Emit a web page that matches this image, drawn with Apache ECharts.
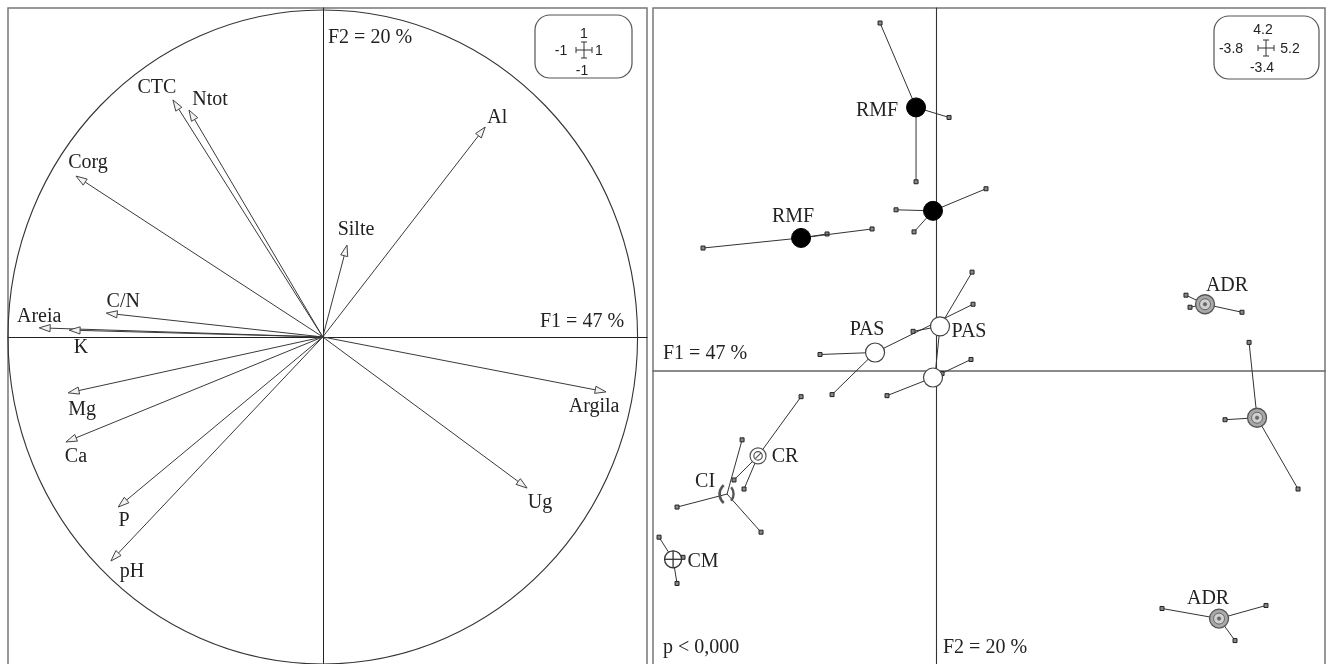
<!DOCTYPE html>
<html>
<head>
<meta charset="utf-8">
<script src="https://cdn.jsdelivr.net/npm/echarts@6/dist/echarts.min.js"></script>
<style>
html,body{margin:0;padding:0;background:#fff;}
#chart{width:1330px;height:664px;}
</style>
</head>
<body>
<div id="chart"></div>
<script>
// ---------- DATA ----------
// Left panel: correlation circle (variable loadings on F1, F2)
const varNames = ['CTC','Ntot','Corg','C/N','Areia','K','Mg','Ca','P','pH','Al','Silte','Argila','Ug'];
const varF1 = [-0.476,-0.425,-0.784,-0.688,-0.901,-0.806,-0.809,-0.816,-0.650,-0.673,0.516,0.077,0.900,0.649];
const varF2 = [0.725,0.694,0.492,0.073,0.028,0.021,-0.171,-0.321,-0.520,-0.685,0.642,0.281,-0.168,-0.462];

// Right panel: class centroids
const groupClass = ['RMF','RMF','RMF','PAS','PAS','PAS','ADR','ADR','ADR','CR','CI','CM'];
const groupLabel = ['RMF','','RMF','PAS','PAS','','ADR','','ADR','CR','CI','CM'];
const groupF1 = [-0.277,-0.050,-1.817,0.044,-0.826,-0.050,3.593,4.290,3.781,-2.393,-2.808,-3.531];
const groupF2 = [3.048,1.850,1.536,0.512,0.209,-0.081,0.768,-0.547,-2.874,-0.989,-1.431,-2.187];

// Right panel: samples (each linked to its group centroid)
const sampleGroup = [0,0,0, 1,1,1, 2,2,2, 3,3,3, 4,4,4, 5,5,5, 6,6,6, 7,7,7, 8,8,8, 9,9,9, 10,10,10, 11,11,11];
const sampleF1 = [-0.759,0.165,-0.277, 0.660,-0.545,-0.304, -3.130,-1.469,-0.866,
                  0.473,-0.317,-0.023, -1.563,-1.402,0.486, -0.666,0.459,0.071,
                  3.338,3.392,4.088, 4.183,3.861,4.839, 3.017,4.410,3.995,
                  -1.817,-2.715,-2.581, -2.607,-3.478,-2.353, -3.719,-3.478,-3.398];
const sampleF2 = [4.026,2.932,2.187, 2.106,1.862,1.606, 1.419,1.582,1.640,
                  1.140,0.454,-0.058, 0.186,-0.279,0.768, -0.291,0.128,-0.035,
                  0.873,0.733,0.675, 0.326,-0.570,-1.373, -2.757,-2.722,-3.129,
                  -0.303,-1.268,-1.373, -0.803,-1.582,-1.873, -1.931,-2.467,-2.164];

// Axis ranges / scale-box tick labels
const leftRange = [-1, 1];
const rightXRange = [-3.8, 5.2];
const rightYRange = [-3.4, 4.2];
const axisTexts = ['F1 = 47 %', 'F2 = 20 %', 'p < 0,000'];

// ---------- STYLE / PLACEMENT ----------
const serif = '"Liberation Serif","Times New Roman",serif';
const sans = '"Liberation Sans",Arial,sans-serif';
const varLabelOffset = {
  'CTC':[-16,-12],'Ntot':[21,-10],'Corg':[12,-13],'C/N':[17,-11],'Areia':[0,-11],'K':[12,18],
  'Mg':[14,17],'Ca':[10,15],'P':[6,14],'pH':[21,11],'Al':[12,-9],'Silte':[9,-15],'Argila':[-12,15],'Ug':[13,15]
};
const groupLabelOffset = [[-39,3],[0,0],[-8,-21],[29,5],[-8,-23],[0,0],[22,-18],[0,0],[-11,-20],[27,1],[-22,-12],[30,2]];

const chart = echarts.init(document.getElementById('chart'), null, {renderer:'canvas'});

function hiddenAxis(extra){
  return Object.assign({
    type:'value', splitLine:{show:false}, axisTick:{show:false}, axisLabel:{show:false},
    axisLine:{show:true, onZero:true, lineStyle:{color:'#222', width:1}}
  }, extra);
}

function crossMarks(cx, cy, hw, hh){
  const st = {stroke:'#333', lineWidth:1};
  const c = 3;
  return [
    {type:'line', silent:true, shape:{x1:cx-hw,y1:cy,x2:cx+hw,y2:cy}, style:st},
    {type:'line', silent:true, shape:{x1:cx,y1:cy-hh,x2:cx,y2:cy+hh}, style:st},
    {type:'line', silent:true, shape:{x1:cx-hw,y1:cy-c,x2:cx-hw,y2:cy+c}, style:st},
    {type:'line', silent:true, shape:{x1:cx+hw,y1:cy-c,x2:cx+hw,y2:cy+c}, style:st},
    {type:'line', silent:true, shape:{x1:cx-c,y1:cy-hh,x2:cx+c,y2:cy-hh}, style:st},
    {type:'line', silent:true, shape:{x1:cx-c,y1:cy+hh,x2:cx+c,y2:cy+hh}, style:st}
  ];
}
function txt(x, y, text, font, align){
  return {type:'text', silent:true, x:x, y:y, style:{text:text, font:font, fill:'#222',
    textAlign:align||'center', align:align||'center', textVerticalAlign:'middle', verticalAlign:'middle'}};
}
function fmt(v){ return String(v); }

const graphics = [
  // panel frames
  {type:'rect', silent:true, shape:{x:8,y:8,width:639,height:700}, style:{fill:'rgba(0,0,0,0)', stroke:'#777', lineWidth:1.5}},
  {type:'rect', silent:true, shape:{x:653,y:8,width:672,height:700}, style:{fill:'rgba(0,0,0,0)', stroke:'#777', lineWidth:1.5}},
  // scale boxes
  {type:'rect', silent:true, shape:{x:535,y:15,width:97,height:63,r:15}, style:{fill:'#fff', stroke:'#555', lineWidth:1.2}},
  {type:'rect', silent:true, shape:{x:1214,y:16,width:105,height:63,r:15}, style:{fill:'#fff', stroke:'#555', lineWidth:1.2}},
  txt(584,34,fmt(leftRange[1]),'14px '+sans),
  txt(561,51,fmt(leftRange[0]),'14px '+sans),
  txt(599,51,fmt(leftRange[1]),'14px '+sans),
  txt(582,71,fmt(leftRange[0]),'14px '+sans),
  txt(1263,30,fmt(rightYRange[1]),'14px '+sans),
  txt(1231,49,fmt(rightXRange[0]),'14px '+sans),
  txt(1290,49,fmt(rightXRange[1]),'14px '+sans),
  txt(1262,68,fmt(rightYRange[0]),'14px '+sans),
  // axis annotations
  txt(328,38,axisTexts[1],'20px '+serif,'left'),
  txt(540,322,axisTexts[0],'20px '+serif,'left'),
  txt(663,354,axisTexts[0],'20px '+serif,'left'),
  txt(663,648,axisTexts[2],'20px '+serif,'left'),
  txt(943,648,axisTexts[1],'20px '+serif,'left')
].concat(crossMarks(584,50,8,8)).concat(crossMarks(1266,48,8,8));

function arrowItem(params, api){
  const o = api.coord([0,0]);
  const t = api.coord([api.value(0), api.value(1)]);
  const dx = t[0]-o[0], dy = t[1]-o[1];
  const len = Math.hypot(dx,dy);
  const ux = dx/len, uy = dy/len;
  const hl = 11, hw = 3.6;
  const bx = t[0]-ux*hl, by = t[1]-uy*hl;
  const px = -uy, py = ux;
  const name = varNames[params.dataIndex];
  const off = varLabelOffset[name] || [0,0];
  return {type:'group', children:[
    {type:'line', shape:{x1:o[0],y1:o[1],x2:bx,y2:by}, style:{stroke:'#3a3a3a', lineWidth:1}},
    {type:'polygon', shape:{points:[[t[0],t[1]],[bx+px*hw,by+py*hw],[bx-px*hw,by-py*hw]]},
      style:{fill:'#f2f2f2', stroke:'#444', lineWidth:1}},
    {type:'text', style:{text:name, x:t[0]+off[0], y:t[1]+off[1], font:'20px '+serif, fill:'#222',
      align:'center', verticalAlign:'middle', textAlign:'center', textVerticalAlign:'middle'}}
  ]};
}

function circleItem(params, api){
  const c = api.coord([0,0]);
  const r1 = api.coord([api.value(2),0]);
  const r2 = api.coord([0,api.value(2)]);
  return {type:'ellipse', shape:{cx:c[0], cy:c[1], rx:r1[0]-c[0], ry:c[1]-r2[1]},
    style:{fill:'rgba(0,0,0,0)', stroke:'#333', lineWidth:1.1}};
}

function starItem(params, api){
  const g = api.value(2);
  const c = api.coord([groupF1[g], groupF2[g]]);
  const p = api.coord([api.value(0), api.value(1)]);
  return {type:'group', children:[
    {type:'line', shape:{x1:c[0],y1:c[1],x2:p[0],y2:p[1]}, style:{stroke:'#333', lineWidth:1}},
    {type:'rect', shape:{x:p[0]-2,y:p[1]-2,width:4,height:4}, style:{fill:'#888', stroke:'#222', lineWidth:1}}
  ]};
}

function centroidItem(params, api){
  const i = params.dataIndex;
  const c = api.coord([api.value(0), api.value(1)]);
  const cls = groupClass[i];
  const x = c[0], y = c[1];
  let ch = [];
  if (cls === 'RMF') {
    ch.push({type:'circle', shape:{cx:x,cy:y,r:9.5}, style:{fill:'#000', stroke:'#000', lineWidth:1}});
  } else if (cls === 'PAS') {
    ch.push({type:'circle', shape:{cx:x,cy:y,r:9.5}, style:{fill:'#fff', stroke:'#444', lineWidth:1.2}});
  } else if (cls === 'ADR') {
    ch.push({type:'circle', shape:{cx:x,cy:y,r:9.5}, style:{fill:'#a8a8a8', stroke:'#555', lineWidth:1.3}});
    ch.push({type:'circle', shape:{cx:x,cy:y,r:5.5}, style:{fill:'#d0d0d0', stroke:'#666', lineWidth:1}});
    ch.push({type:'circle', shape:{cx:x,cy:y,r:1.8}, style:{fill:'#666', stroke:'#666', lineWidth:0.5}});
  } else if (cls === 'CR') {
    ch.push({type:'circle', shape:{cx:x,cy:y,r:8}, style:{fill:'#fff', stroke:'#555', lineWidth:1.2}});
    ch.push({type:'circle', shape:{cx:x,cy:y,r:4.2}, style:{fill:'#fff', stroke:'#555', lineWidth:1.2}});
    ch.push({type:'line', shape:{x1:x-2.8,y1:y+2.8,x2:x+2.8,y2:y-2.8}, style:{stroke:'#555', lineWidth:1.2}});
  } else if (cls === 'CI') {
    ch.push({type:'arc', shape:{cx:x+4,cy:y,r:11.5,startAngle:Math.PI*0.72,endAngle:Math.PI*1.28,clockwise:true}, style:{fill:null, stroke:'#555', lineWidth:2.6}});
    ch.push({type:'arc', shape:{cx:x-4,cy:y,r:10.5,startAngle:-Math.PI*0.22,endAngle:Math.PI*0.22,clockwise:true}, style:{fill:null, stroke:'#555', lineWidth:2.4}});
  } else if (cls === 'CM') {
    ch.push({type:'circle', shape:{cx:x,cy:y,r:8.5}, style:{fill:'#fff', stroke:'#333', lineWidth:1.3}});
    ch.push({type:'line', shape:{x1:x-8.5,y1:y,x2:x+8.5,y2:y}, style:{stroke:'#333', lineWidth:1.3}});
    ch.push({type:'line', shape:{x1:x,y1:y-8.5,x2:x,y2:y+8.5}, style:{stroke:'#333', lineWidth:1.3}});
  }
  const lab = groupLabel[i];
  if (lab) {
    const off = groupLabelOffset[i];
    ch.push({type:'text', style:{text:lab, x:x+off[0], y:y+off[1], font:'20px '+serif, fill:'#222',
      align:'center', verticalAlign:'middle', textAlign:'center', textVerticalAlign:'middle'}});
  }
  return {type:'group', children:ch};
}

const option = {
  backgroundColor:'#fff',
  animation:false,
  grid:[
    {left:8, top:8, width:639, height:656, show:false},
    {left:653, top:8, width:672, height:656, show:false}
  ],
  xAxis:[
    hiddenAxis({gridIndex:0, min:leftRange[0], max:1.03}),
    hiddenAxis({gridIndex:1, min:rightXRange[0], max:rightXRange[1], axisLine:{show:true,onZero:true,lineStyle:{color:'#666',width:1.6}}})
  ],
  yAxis:[
    hiddenAxis({gridIndex:0, min:-1.0, max:1.006}),
    hiddenAxis({gridIndex:1, min:rightYRange[0], max:rightYRange[1], axisLine:{show:true,onZero:true,lineStyle:{color:'#333',width:1.1}}})
  ],
  graphic:{elements:graphics},
  series:[
    {type:'custom', name:'circle', xAxisIndex:0, yAxisIndex:0, renderItem:circleItem, data:[[0,0,leftRange[1]]], silent:true, z:2},
    {type:'custom', name:'vars', xAxisIndex:0, yAxisIndex:0, renderItem:arrowItem,
      data:varNames.map((n,i)=>[varF1[i], varF2[i]]), silent:true, z:3},
    {type:'custom', name:'stars', xAxisIndex:1, yAxisIndex:1, renderItem:starItem,
      data:sampleGroup.map((g,i)=>[sampleF1[i], sampleF2[i], g]), silent:true, z:3},
    {type:'custom', name:'centroids', xAxisIndex:1, yAxisIndex:1, renderItem:centroidItem,
      data:groupClass.map((c,i)=>[groupF1[i], groupF2[i]]), silent:true, z:4}
  ]
};
chart.setOption(option);
</script>
</body>
</html>
